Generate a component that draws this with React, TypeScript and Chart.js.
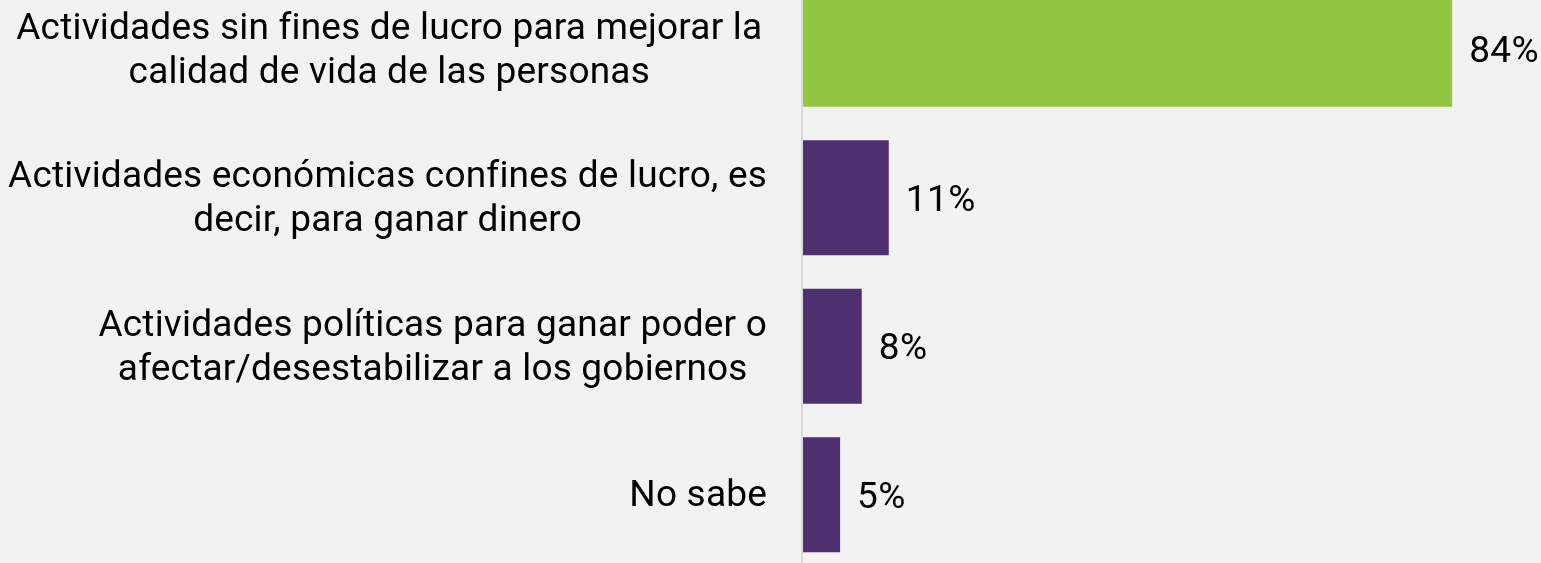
import React, { useEffect, useRef } from "react";
import { Chart, registerables } from "chart.js";

Chart.register(...registerables);

const categories: string[][] = [
  ["Actividades sin fines de lucro para mejorar la ", "calidad de vida de las personas"],
  ["Actividades económicas confines de lucro, es", "decir, para ganar dinero"],
  ["Actividades políticas para ganar poder o", "afectar/desestabilizar a los gobiernos"],
  ["No sabe"],
];
const values: number[] = [84, 11.1, 7.6, 4.8];
const valueLabels: string[] = ["84%", "11%", "8%", "5%"];
const barColors: string[] = ["#92c540", "#4f3172", "#4f3172", "#4f3172"];

const FONT = "37px Roboto";

const customPlugin = {
  id: "customLabels",
  beforeDatasetsDraw(chart: any) {
    const { ctx, chartArea } = chart;
    ctx.save();
    ctx.fillStyle = "#d9d9d9";
    ctx.fillRect(chartArea.left - 2, 0, 2, chart.height);
    ctx.restore();
  },
  afterDatasetsDraw(chart: any) {
    const { ctx, chartArea, scales } = chart;
    const ys = scales.y;
    const xs = scales.x;
    const right = chartArea.left - 36;
    ctx.save();
    ctx.fillStyle = "#000000";
    ctx.font = FONT;
    ctx.letterSpacing = "0.2px";
    ctx.textBaseline = "alphabetic";
    ctx.textAlign = "center";
    categories.forEach((lines, i) => {
      const cy = ys.getPixelForValue(i);
      const widest = Math.max(...lines.map((l) => ctx.measureText(l).width));
      const cx = right - widest / 2;
      const n = lines.length;
      lines.forEach((l, j) => {
        const by = cy + 11.5 + (j - (n - 1) / 2) * 44;
        ctx.fillText(l.trim(), cx, by);
      });
    });
    ctx.textAlign = "left";
    ctx.letterSpacing = "0.4px";
    values.forEach((v, i) => {
      const px = xs.getPixelForValue(v);
      const cy = ys.getPixelForValue(i);
      ctx.fillText(valueLabels[i], px + 17, cy + 13);
    });
    ctx.restore();
  },
};

export default function App() {
  const ref = useRef<HTMLCanvasElement | null>(null);
  useEffect(() => {
    if (!ref.current) return;
    const chart = new Chart(ref.current, {
      type: "bar",
      data: {
        labels: categories.map((c) => c.join(" ")),
        datasets: [
          {
            data: values,
            backgroundColor: barColors,
            borderWidth: 0,
            categoryPercentage: 1,
            barPercentage: 0.774,
          },
        ],
      },
      options: {
        indexAxis: "y",
        animation: false,
        responsive: true,
        maintainAspectRatio: false,
        layout: { padding: { left: 803, right: 0, top: 0, bottom: 0 } },
        plugins: { legend: { display: false }, tooltip: { enabled: false } },
        scales: {
          x: { display: false, min: 0, max: 95.5 },
          y: { display: false },
        },
      },
      plugins: [customPlugin],
    });
    return () => chart.destroy();
  }, []);
  return (
    <div
      style={{
        position: "fixed",
        left: 0,
        top: 0,
        width: 1541,
        height: 563,
        overflow: "hidden",
        background: "#f2f2f2",
      }}
    >
      <div style={{ position: "absolute", left: 0, top: -25, width: 1541, height: 594 }}>
        <canvas ref={ref} />
      </div>
    </div>
  );
}
